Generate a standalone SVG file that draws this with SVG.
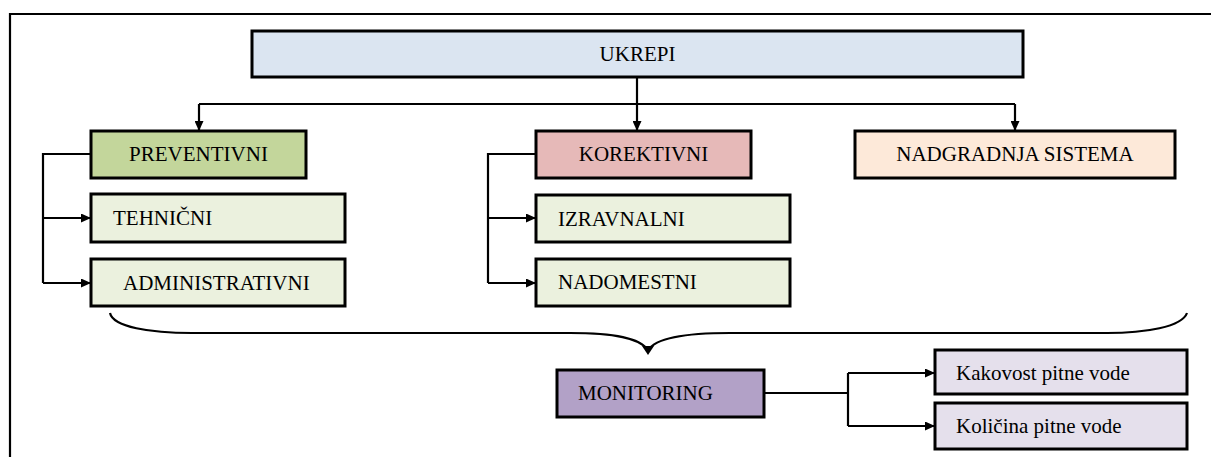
<svg xmlns="http://www.w3.org/2000/svg" width="1211" height="457" viewBox="0 0 1211 457">
<style>
.box{stroke:#000;stroke-width:3}
text{font-family:'Liberation Serif',serif;font-size:21px;fill:#000}
.c{text-anchor:middle}
.ln{fill:none;stroke:#000;stroke-width:2.2}
</style>
<defs>
<marker id="ah" markerWidth="10" markerHeight="9" refX="9" refY="4.5" orient="auto" markerUnits="userSpaceOnUse">
<path d="M0,0 L10,4.5 L0,9 Z" fill="#000"/>
</marker>
</defs>
<rect width="1211" height="457" fill="#fff"/>
<path d="M1211,14 H10 V457" class="ln"/>
<g id="connectors">
<path class="ln" d="M199,104 H1015"/>
<path class="ln" d="M199,104 V130" marker-end="url(#ah)"/>
<path class="ln" d="M637,77 V130" marker-end="url(#ah)"/>
<path class="ln" d="M1015,104 V130" marker-end="url(#ah)"/>
<path class="ln" d="M91,154 H43 V283"/>
<path class="ln" d="M43,218 H90" marker-end="url(#ah)"/>
<path class="ln" d="M43,283 H90" marker-end="url(#ah)"/>
<path class="ln" d="M536,154 H488 V283"/>
<path class="ln" d="M488,218 H535" marker-end="url(#ah)"/>
<path class="ln" d="M488,283 H535" marker-end="url(#ah)"/>
<path class="ln" d="M110,313 C113,327 150,333 192,333 L570,333 C615,333 640,338 648,350"/>
<path class="ln" d="M1187,313 C1182,327 1145,333 1107,333 L730,333 C685,333 656,338 648,350"/>
<path d="M642,346 L654,346 L648,355 Z" fill="#000"/>
<path class="ln" d="M764,393 H848"/>
<path class="ln" d="M848,373 V426"/>
<path class="ln" d="M848,373 H934" marker-end="url(#ah)"/>
<path class="ln" d="M848,426 H934" marker-end="url(#ah)"/>
</g>
<g id="ukrepi"><rect class="box" x="252" y="31" width="771" height="46" fill="#dbe5f1"/><text class="c" x="637.5" y="61">UKREPI</text></g>
<g id="preventivni"><rect class="box" x="91" y="131" width="215" height="47" fill="#c3d69b"/><text class="c" x="198.5" y="161">PREVENTIVNI</text></g>
<g id="korektivni"><rect class="box" x="536" y="131" width="215" height="47" fill="#e6b9b8"/><text class="c" x="643.5" y="161">KOREKTIVNI</text></g>
<g id="nadgradnja"><rect class="box" x="855" y="131" width="320" height="47" fill="#fde9d9"/><text class="c" x="1015" y="161">NADGRADNJA SISTEMA</text></g>
<g id="tehnicni"><rect class="box" x="91" y="194" width="254" height="48" fill="#ebf1de"/><text x="113" y="225">TEHNIČNI</text></g>
<g id="administrativni"><rect class="box" x="91" y="259" width="254" height="47" fill="#ebf1de"/><text x="123" y="290">ADMINISTRATIVNI</text></g>
<g id="izravnalni"><rect class="box" x="536" y="195" width="254" height="47" fill="#ebf1de"/><text x="558" y="226">IZRAVNALNI</text></g>
<g id="nadomestni"><rect class="box" x="536" y="259" width="254" height="47" fill="#ebf1de"/><text x="558" y="289">NADOMESTNI</text></g>
<g id="monitoring"><rect class="box" x="557" y="370" width="207" height="47" fill="#b2a1c7"/><text x="578" y="400">MONITORING</text></g>
<g id="kakovost"><rect class="box" x="935" y="350" width="252" height="44" fill="#e5e0ec"/><text x="956" y="380">Kakovost pitne vode</text></g>
<g id="kolicina"><rect class="box" x="935" y="403" width="252" height="46" fill="#e5e0ec"/><text x="956" y="433">Količina pitne vode</text></g>
</svg>
